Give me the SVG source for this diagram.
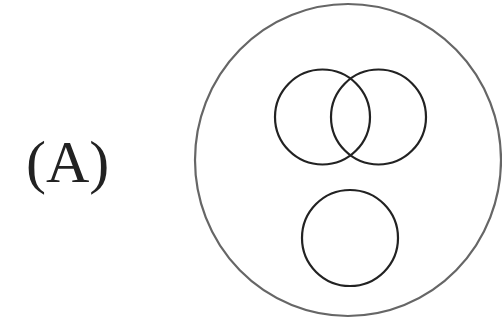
<svg xmlns="http://www.w3.org/2000/svg" width="502" height="328" viewBox="0 0 502 328">
<style>
.c{fill:none;stroke:#222;stroke-width:2.2}
.o{fill:none;stroke:#666;stroke-width:2.2}
.t{font-family:"Liberation Serif",serif;font-size:60px;fill:#222}
</style>
<rect width="502" height="328" fill="#fff"/>
<g id="label"><text class="t" x="26" y="182">(A)</text></g>
<g id="outer"><ellipse class="o" cx="348" cy="160" rx="153" ry="156"/></g>
<g id="left"><circle class="c" cx="322.5" cy="117" r="47.5"/></g>
<g id="right"><circle class="c" cx="378.5" cy="117" r="47.5"/></g>
<g id="bottom"><circle class="c" cx="350" cy="238" r="48"/></g>
<g id="connectors"/>
</svg>
